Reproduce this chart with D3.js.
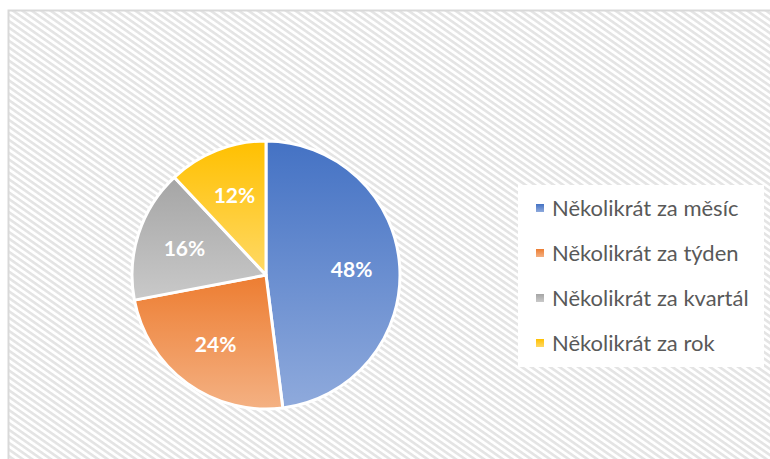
<!DOCTYPE html>
<html lang="cs">
<head>
<meta charset="UTF-8">
<title>Pie</title>
<script src="https://d3js.org/d3.v7.min.js"></script>
<style>
  body { margin: 0; overflow: hidden; background: #fff; }
  svg { display: block; }
  .pct { font-family: Lato, "Open Sans", sans-serif; font-weight: bold; font-size: 21px; fill: #fff; }
  .leg { font-family: Lato, "Open Sans", sans-serif; font-size: 22px; fill: #595959; }
</style>
</head>
<body>
<script>
  const categories = ["Několikrát za měsíc", "Několikrát za týden", "Několikrát za kvartál", "Několikrát za rok"];
  const values = [48, 24, 16, 12];
  const topColors = ["#4472c4", "#ed7d31", "#a5a5a5", "#ffc000"];
  const bottomColors = ["#8faadc", "#f4b183", "#c9c9c9", "#ffd966"];

  const W = 770, H = 459;
  const cx = 266, cy = 275, R = 134;

  const svg = d3.select("body").append("svg")
      .attr("width", W).attr("height", H);

  const defs = svg.append("defs");

  // diagonal hatch background
  const pat = defs.append("pattern")
      .attr("id", "hatch")
      .attr("patternUnits", "userSpaceOnUse")
      .attr("width", 5.4).attr("height", 5.4)
      .attr("patternTransform", "rotate(35)");
  pat.append("rect").attr("width", 5.4).attr("height", 5.4).attr("fill", "#ffffff");
  pat.append("rect").attr("width", 5.4).attr("height", 2.6).attr("fill", "#e4e4e4");

  categories.forEach((c, i) => {
    const g = defs.append("linearGradient")
        .attr("id", "grad" + i)
        .attr("x1", 0).attr("y1", 0).attr("x2", 0).attr("y2", 1);
    g.append("stop").attr("offset", "0%").attr("stop-color", topColors[i]);
    g.append("stop").attr("offset", "100%").attr("stop-color", bottomColors[i]);
  });

  svg.append("rect")
      .attr("x", 8.5).attr("y", 10.5)
      .attr("width", 800).attr("height", 500)
      .attr("fill", "url(#hatch)")
      .attr("stroke", "#d9d9d9").attr("stroke-width", 2);

  const pie = d3.pie().sort(null).value(d => d.v);
  const data = pie(categories.map((c, i) => ({ c, v: values[i], i })));

  const arc = d3.arc().innerRadius(0).outerRadius(R);
  const labelArc = d3.arc().innerRadius(R * 0.64).outerRadius(R * 0.64);

  const g = svg.append("g").attr("transform", `translate(${cx},${cy})`);

  g.selectAll("path")
    .data(data)
    .enter().append("path")
      .attr("d", arc)
      .attr("fill", d => `url(#grad${d.data.i})`)
      .attr("stroke", "#fff")
      .attr("stroke-width", 3)
      .attr("stroke-linejoin", "round");

  g.selectAll("text")
    .data(data)
    .enter().append("text")
      .attr("class", "pct")
      .attr("transform", d => `translate(${labelArc.centroid(d)})`)
      .attr("text-anchor", "middle")
      .attr("dy", "0.35em")
      .text(d => d.data.v + "%");

  // legend
  const legY = d3.scalePoint().domain(categories).range([208, 343]);
  const leg = svg.append("g");
  leg.append("rect")
      .attr("x", 518).attr("y", 185)
      .attr("width", 246).attr("height", 182)
      .attr("fill", "#fff");

  const items = leg.selectAll("g.item")
    .data(categories)
    .enter().append("g")
      .attr("class", "item")
      .attr("transform", d => `translate(536,${legY(d)})`);

  items.append("rect")
      .attr("x", 0).attr("y", -4)
      .attr("width", 8).attr("height", 8)
      .attr("fill", (d, i) => `url(#grad${i})`);

  items.append("text")
      .attr("class", "leg")
      .attr("x", 16)
      .attr("dy", "0.35em")
      .text(d => d);
</script>
</body>
</html>
